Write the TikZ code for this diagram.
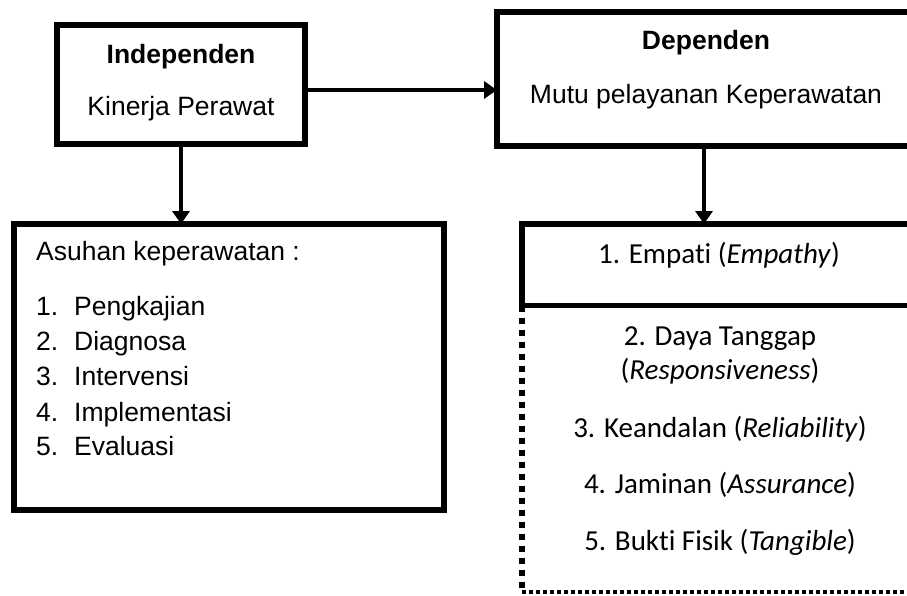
\documentclass[tikz,border=0pt]{standalone}
\usepackage{fontspec}
\setmainfont{Liberation Sans}
\newfontfamily\calibri[Ligatures={NoCommon,NoRequired}]{Carlito}
\usetikzlibrary{positioning, arrows.meta}

\begin{document}
\begin{tikzpicture}[x=1pt,y=-1pt]
    \tikzstyle{box} = [rectangle,draw=black,line width=5.5pt,fill=white,outer sep=0pt,inner sep=0pt]
    \tikzstyle{txt} = [inner sep=0pt,font=\fontsize{26.5}{32}\selectfont]
    \tikzstyle{cal} = [inner sep=0pt,anchor=base,font=\calibri\fontsize{29}{35}\selectfont]
    \tikzstyle{arr} = [line width=4.5pt,-{Triangle[length=13pt,width=17pt]}]
    \tikzstyle{vdots} = [line width=5.5pt,dash pattern=on 6pt off 6pt]
    \tikzstyle{hdots} = [line width=4pt,dash pattern=on 4pt off 3pt]

    \clip (0,0) rectangle (907,595);

    % boxes
    \node (indep) [box, minimum width=248pt, minimum height=119pt] at (181,84.5) {};
    \node (dep) [box, minimum width=418pt, minimum height=134pt] at (706,79) {};
    \node (asuhan) [box, minimum width=430pt, minimum height=286pt] at (229,367) {};
    \coordinate (dend) at (930,592);
    \node (empati) [box, minimum width=394pt, minimum height=81.5pt] at (719,264.75) {};
    \draw [vdots] (empati.south west) -- (empati.south west |- dend);
    \draw [hdots] (empati.south west |- dend) -- (dend);

    % texts
    \node (indeptitle) [txt, anchor=base, font=\fontsize{26.5}{32}\selectfont\bfseries] at (181,63) {Independen};
    \node (kinerja) [txt, anchor=base] at (181,115) {Kinerja Perawat};
    \node (deptitle) [txt, anchor=base, font=\fontsize{26.5}{32}\selectfont\bfseries] at (706,49) {Dependen};
    \node (mutu) [txt, anchor=base] at (706,103) {Mutu pelayanan Keperawatan};

    \node (ask) [txt, anchor=base west] at (36,260) {Asuhan keperawatan :};
    \node (n1) [txt, anchor=base west] at (36,315) {1.};
    \node (n2) [txt, anchor=base west] at (36,350) {2.};
    \node (n3) [txt, anchor=base west] at (36,385) {3.};
    \node (n4) [txt, anchor=base west] at (36,421) {4.};
    \node (n5) [txt, anchor=base west] at (36,455) {5.};
    \node (pengkajian) [txt, anchor=base west] at (74,315) {Pengkajian};
    \node (diagnosa) [txt, anchor=base west] at (74,350) {Diagnosa};
    \node (intervensi) [txt, anchor=base west] at (74,385) {Intervensi};
    \node (implementasi) [txt, anchor=base west] at (74,421) {Implementasi};
    \node (evaluasi) [txt, anchor=base west] at (74,455) {Evaluasi};

    \node (empathy) [cal] at (719,263) {1. Empati (\textit{Empathy})};
    \node (daya) [cal] at (720,345) {2. Daya Tanggap};
    \node (resp) [cal] at (720,379) {(\textit{Responsiveness})};
    \node (reliab) [cal] at (720,437) {3. Keandalan (\textit{Reliability})};
    \node (assur) [cal] at (720,493) {4. Jaminan (\textit{Assurance})};
    \node (tangib) [cal] at (720,550) {5. Bukti Fisik (\textit{Tangible})};

    % arrows
    \draw [arr] ([yshift=-5.5pt]indep.east) -- ([yshift=-5.5pt]indep.east -| dep.west);
    \draw [arr] (indep.south) -- (indep.south |- asuhan.north);
    \draw [arr] ([xshift=-2pt]dep.south) -- ([xshift=-2pt]dep.south |- empati.north);
\end{tikzpicture}
\end{document}
